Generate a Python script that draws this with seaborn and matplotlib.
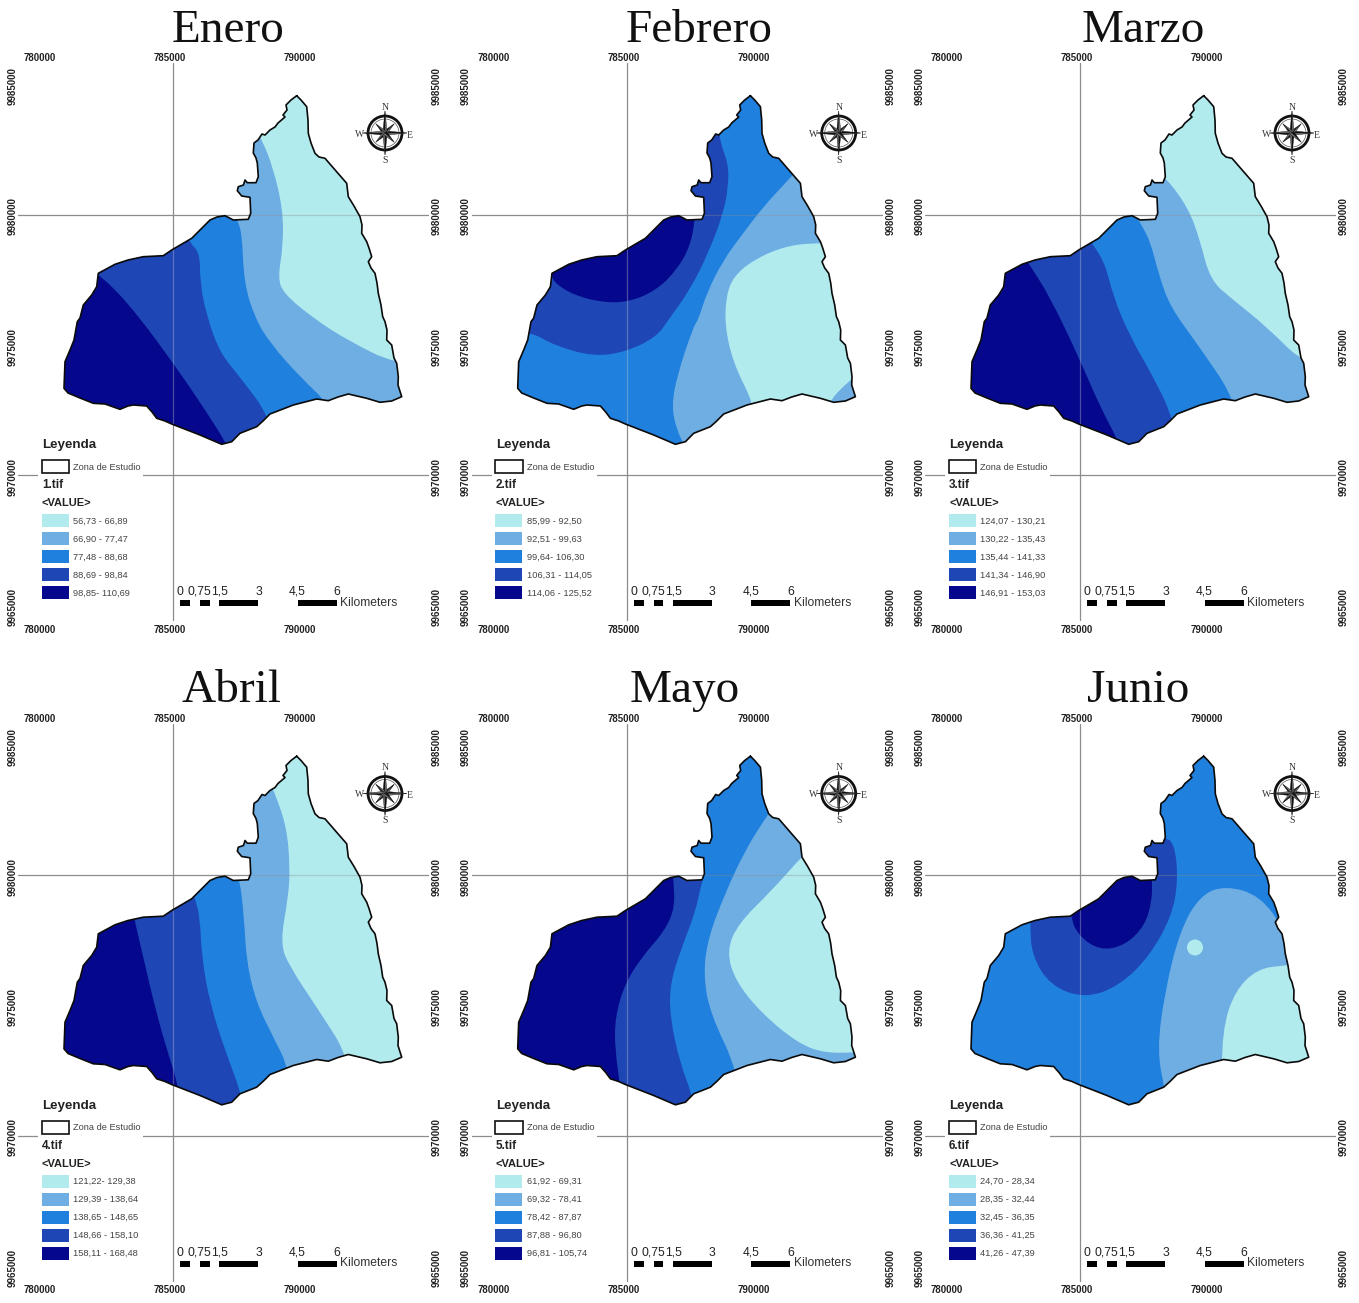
import numpy as np
import matplotlib
matplotlib.use("Agg")
import matplotlib.pyplot as plt
import seaborn as sns
from matplotlib.patches import Polygon, Rectangle, Circle, PathPatch
from matplotlib.path import Path
from matplotlib.transforms import ScaledTranslation

# Digitised map sheet: sheet units, georeferenced to UTM metres below
PX_PER_KM = 26.05
SHEET_X0, SHEET_Y0 = 173.0, 214.5
UTM_E0, UTM_N0 = 785000, 9980000

outline_pts = [
    (296.7, 95.7), (291, 100), (286, 105), (287, 110), (283, 115), (285, 117), (278, 123), (275, 127), (270, 130),
    (265, 135), (262, 134), (258, 140), (254, 143), (253.3, 153), (256, 158), (257.3, 163), (258.3, 176.7),
    (256, 182.7), (247.3, 182.7), (245, 180), (243.5, 185), (238.3, 186.7), (237.3, 190.7), (241.7, 196),
    (250, 197.3), (250.7, 213.3), (248.3, 219.3), (233.3, 220), (225, 215.7), (217, 217), (210, 220), (200, 230),
    (191.7, 238.3), (171.7, 250), (163.3, 255.7), (143.3, 256.7), (128, 260), (115, 264.3), (98.3, 273.3),
    (96.7, 286.7), (91.7, 295), (83.3, 305), (80, 318), (77.3, 321.7), (74, 340), (70, 350), (65, 361.7),
    (64, 388.3), (68, 393), (80, 398), (93.3, 403.3), (105, 404), (120, 409.3), (128, 406), (133.3, 405),
    (146.7, 406), (152, 412), (156.7, 418.3), (165, 421), (171.7, 424), (200, 435), (221.7, 444.3), (231.7, 441.7),
    (240, 433.3), (256.7, 426.7), (263, 421), (270, 414), (293.3, 405), (316.7, 399), (328.3, 400.7), (338, 397),
    (348.3, 394), (366.7, 398.3), (380, 402.3), (391.7, 401), (401.7, 396.7), (398, 385), (398.3, 376.7),
    (396.7, 363.3), (394, 358), (391.7, 345), (386.7, 340), (387, 330), (385, 321.7), (382.7, 316.7), (381, 305),
    (378.3, 293.3), (377, 283), (375, 273.3), (371, 268), (368.3, 261.7), (371.7, 256.7), (369, 248),
    (366.7, 241.7), (361.7, 233.3), (362, 225), (360, 216.7), (354, 206), (348.3, 196.7), (347.5, 190),
    (346.7, 183.3), (336, 171), (325, 158.3), (319, 157), (315, 153.3), (311, 143), (308.3, 133.3), (308, 120),
    (306.7, 106.7), (301, 100), (296.7, 95.7),
]

# class colours, lowest to highest
class_colors = ["#B2EBEE", "#6FAEE3", "#1F80DE", "#1E46B5", "#05088C"]

months = ["Enero", "Febrero", "Marzo", "Abril", "Mayo", "Junio"]
title_centers = [228, 699, 1143, 232, 685, 1138]
tif_names = ["1.tif", "2.tif", "3.tif", "4.tif", "5.tif", "6.tif"]

enero_classes = ["56,73 - 66,89", "66,90 - 77,47", "77,48 - 88,68", "88,69 - 98,84", "98,85- 110,69"]
febrero_classes = ["85,99 - 92,50", "92,51 - 99,63", "99,64- 106,30", "106,31 - 114,05", "114,06 - 125,52"]
marzo_classes = ["124,07 - 130,21", "130,22 - 135,43", "135,44 - 141,33", "141,34 - 146,90", "146,91 - 153,03"]
abril_classes = ["121,22- 129,38", "129,39 - 138,64", "138,65 - 148,65", "148,66 - 158,10", "158,11 - 168,48"]
mayo_classes = ["61,92 - 69,31", "69,32 - 78,41", "78,42 - 87,87", "87,88 - 96,80", "96,81 - 105,74"]
junio_classes = ["24,70 - 28,34", "28,35 - 32,44", "32,45 - 36,35", "36,36 - 41,25", "41,26 - 47,39"]
month_classes = [enero_classes, febrero_classes, marzo_classes, abril_classes, mayo_classes, junio_classes]

x_ticks = [780000, 785000, 790000]
y_ticks = [9965000, 9970000, 9975000, 9980000, 9985000]
scale_breaks = [0, 0.375, 0.75, 1.125, 1.5, 3, 4.5, 6]
scale_labels = [(0, "0"), (0.75, "0,75"), (1.5, "1,5"), (3, "3"), (4.5, "4,5"), (6, "6")]


def east_of(points):
    # close a class boundary round the eastern side of the sheet
    first, last = points[0], points[-1]
    end = [(460, last[1])] if last[0] > 380 else [(last[0], 470)]
    return list(points) + end + [(460, 470), (460, 60), (first[0], 60)]


enero_bands = [
    (3, east_of([(92, 268), (98, 275), (113, 287), (140, 318), (173, 363), (200, 402), (232, 452)])),
    (2, east_of([(187, 234), (190, 243), (200, 253), (200, 283), (207, 317), (220, 353), (240, 377), (272, 420)])),
    (1, east_of([(235, 212), (237, 220), (242, 233), (244, 283), (255, 318), (270, 343), (300, 377), (333, 408)])),
    (0, east_of([(258, 135), (262, 140), (273, 167), (283, 210), (283, 247), (278, 277), (283, 293), (313, 318),
                 (347, 340), (397, 365)])),
]
febrero_bands = [
    (3, [(79.6, 333), (99.6, 345), (139.6, 356.7), (173, 351.7), (203, 336.7), (214.6, 320), (236.3, 290),
         (256, 250), (269.6, 213), (274.6, 186.7), (274.6, 163), (264.6, 138), (264.6, 90), (60, 90), (60, 333)]),
    (4, [(98, 273), (99.6, 282), (119.6, 295), (149.6, 302.7), (176.3, 301.7), (203, 290), (223, 270),
         (236.3, 246.7), (241.3, 220), (241.3, 205), (90, 205), (90, 273)]),
    (1, east_of([(340, 174), (336.3, 178), (309.6, 206.7), (289.6, 233), (269.6, 260), (253, 293), (244.6, 320),
                 (239.6, 326.7), (223, 376.7), (218, 406.7), (223, 430), (232, 448)])),
    (0, [(410, 243), (359.6, 242.7), (329.6, 246.7), (299.6, 260), (279.6, 276.7), (272.3, 296.7), (271.3, 326.7),
         (279.6, 363), (298, 400), (298, 410), (376, 410), (376.3, 400), (396.3, 380), (410, 370)]),
]
marzo_bands = [
    (3, east_of([(118, 258), (121.3, 263), (143, 296.7), (173, 360), (193, 406.7), (216, 450)])),
    (2, east_of([(182, 238), (184.7, 243), (198, 263), (206.3, 296.7), (223, 336.7), (246.3, 376.7), (268, 422)])),
    (1, east_of([(228, 212), (231.3, 220), (243, 240), (251.3, 273), (263, 306.7), (289.7, 343), (332, 405)])),
    (0, east_of([(245, 170), (259, 177.5), (281.3, 208), (293, 240), (303, 280), (326.3, 300), (359.7, 326.7),
                 (400, 367)])),
]
abril_bands = [
    (3, east_of([(134, 255), (135, 261.7), (143.3, 296.7), (153.3, 340), (165, 383.3), (180, 430)])),
    (2, east_of([(193, 233), (195, 238.3), (200, 256.7), (201.7, 296.7), (210, 343), (225, 390), (243, 437)])),
    (1, east_of([(234, 205), (240, 220), (244, 256.7), (246.7, 303), (256.7, 343), (273.3, 376.7), (290, 410)])),
    (0, east_of([(272, 128), (275, 133), (286.7, 166.7), (290, 206.7), (288.3, 236.7), (280, 283), (290, 306.7),
                 (316.7, 346.7), (351, 400)])),
]
mayo_bands = [
    (3, east_of([(219, 212), (219.6, 218), (221.3, 246.7), (211.3, 270), (188, 296.7), (171.3, 323), (161.3, 356.7),
                 (161.3, 390), (167, 428)])),
    (2, east_of([(230, 205), (251, 214), (248, 221.7), (241.3, 253), (228, 286.7), (216.3, 323), (216.3, 356.7),
                 (226.3, 403), (240, 438)])),
    (1, east_of([(316, 152), (311.3, 158.3), (291.3, 190), (271.3, 233), (254.6, 276.7), (249.6, 313), (256.3, 353),
                 (285, 412)])),
    (0, east_of([(350, 195), (344.6, 200), (318, 230), (284.6, 263), (273, 290), (281.3, 320), (308, 353),
                 (344.6, 383), (371.3, 392.7), (404, 391.7)])),
]
junio_bands = [
    (3, [(123, 265), (125, 295), (143, 325), (178, 338), (213, 325), (243, 295), (265, 255), (271, 220), (268, 185),
         (258, 175), (123, 175)]),
    (4, [(163, 255), (171, 275), (193, 290), (218, 285), (238, 265), (245, 240), (245, 220), (245, 205), (163, 205)]),
    (1, [(258, 440), (258, 430), (250, 390), (258, 330), (273, 270), (293, 235), (318, 225), (353, 235), (378, 270),
         (385, 300), (420, 300), (420, 440)]),
    (0, [(315, 440), (315, 370), (328, 330), (351, 308), (378, 305), (420, 300), (420, 440)]),
]
month_bands = [enero_bands, febrero_bands, marzo_bands, abril_bands, mayo_bands, junio_bands]
month_base = [4, 2, 4, 4, 4, 2]
junio_spot = (288, 287)

sns.set_theme(style="white")
plt.rcParams["font.family"] = ["Liberation Sans", "DejaVu Sans"]

FIG_W, FIG_H = 1359, 1303
col_dx = [0, 453.7, 907]
row_dy = [0, 660.5]


def sheet_e(x):
    return UTM_E0 + (np.asarray(x, dtype=float) - SHEET_X0) / PX_PER_KM * 1000


def sheet_n(y):
    return UTM_N0 - (np.asarray(y, dtype=float) - SHEET_Y0) / PX_PER_KM * 1000


def to_utm(points):
    pts = np.array(points, dtype=float)
    return np.column_stack([sheet_e(pts[:, 0]), sheet_n(pts[:, 1])])


def band_path(xy):
    # class edges are soft on the map, so the points act as curve controls
    mids = (xy + np.roll(xy, -1, axis=0)) / 2
    verts = [mids[-1]]
    codes = [Path.MOVETO]
    for i in range(len(xy)):
        verts += [xy[i], mids[i]]
        codes += [Path.CURVE3, Path.CURVE3]
    verts.append(mids[-1])
    codes.append(Path.CLOSEPOLY)
    return Path(verts, codes)


def draw_compass(ax):
    cx, cy = 385, 133
    ring_r = 17
    e, n = sheet_e(cx), sheet_n(cy)
    m = 1000 / PX_PER_KM
    ax.add_patch(Circle((e, n), ring_r * m, fc="white", ec="#111111", lw=2.0, zorder=6))
    ax.add_patch(Circle((e, n), (ring_r - 3) * m, fc="none", ec="#555555", lw=0.5, zorder=6))
    for i in range(8):
        ang = i * np.pi / 4
        length = (22 if i % 2 == 0 else 13) * m
        tip = np.array([np.cos(ang), np.sin(ang)])
        side = np.array([-tip[1], tip[0]]) * 2.2 * m
        xy = np.array([[e, n], [e, n] + tip * length, [e, n] + side])
        ax.add_patch(Polygon(xy, fc="#111111", ec="#111111", lw=0.3, zorder=7))
        xy = np.array([[e, n], [e, n] + tip * length, [e, n] - side])
        ax.add_patch(Polygon(xy, fc="#777777", ec="#111111", lw=0.3, zorder=7))
    for letter, lx, ly in [("N", 385, 107), ("S", 385, 160), ("W", 360, 134), ("E", 410, 135)]:
        ax.text(sheet_e(lx), sheet_n(ly), letter, family="Liberation Serif", fontsize=7,
                ha="center", va="center", color="#333333", zorder=8)


def draw_legend(ax, tif_name, classes):
    ax.add_patch(Rectangle((sheet_e(38), sheet_n(612)), 105 * 1000 / PX_PER_KM, 172 * 1000 / PX_PER_KM,
                           fc="white", ec="none", zorder=3))
    ax.text(sheet_e(42), sheet_n(445), "Leyenda", fontsize=9.6, fontweight="bold", color="#222222",
            va="center", zorder=5)
    ax.add_patch(Rectangle((sheet_e(41.7), sheet_n(473.3)), 27.3 * 1000 / PX_PER_KM, 13.3 * 1000 / PX_PER_KM,
                           fc="white", ec="#111111", lw=1.2, zorder=5))
    ax.text(sheet_e(73.3), sheet_n(467), "Zona de Estudio", fontsize=6.7, color="#444444", va="center", zorder=5)
    ax.text(sheet_e(42), sheet_n(485), tif_name, fontsize=8.5, fontweight="bold", color="#222222",
            va="center", zorder=5)
    ax.text(sheet_e(42), sheet_n(503), "<VALUE>", fontsize=8, fontweight="bold", color="#222222",
            va="center", zorder=5)
    for i, label in enumerate(classes):
        top = 514 + 18 * i
        ax.add_patch(Rectangle((sheet_e(41.7), sheet_n(top + 13.3)), 26.8 * 1000 / PX_PER_KM, 13.3 * 1000 / PX_PER_KM,
                               fc=class_colors[i], ec="none", zorder=5))
        ax.text(sheet_e(73.3), sheet_n(top + 9.5), label, fontsize=6.7, color="#444444", va="baseline", zorder=5)


def draw_scale(ax):
    start = sheet_e(180.3)
    top, bottom = sheet_n(600), sheet_n(606)
    for i in range(0, len(scale_breaks) - 1, 2):
        x0 = start + scale_breaks[i] * 1000
        width = (scale_breaks[i + 1] - scale_breaks[i]) * 1000
        ax.add_patch(Rectangle((x0, bottom), width, top - bottom, fc="black", ec="none", zorder=5))
    for km, label in scale_labels:
        ax.text(start + km * 1000, sheet_n(595), label, fontsize=8.7, color="#222222",
                ha="center", va="baseline", zorder=5)
    ax.text(sheet_e(340), sheet_n(602.7), "Kilometers", fontsize=8.7, color="#333333", va="center", zorder=5)


def draw_panel(fig, idx):
    row, col = divmod(idx, 3)
    dx, dy = col_dx[col], row_dy[row]
    left, right, top, bottom = 18, 429, 63, 621
    ax = fig.add_axes([(left + dx) / FIG_W, 1 - (bottom + dy) / FIG_H, (right - left) / FIG_W, (bottom - top) / FIG_H])

    outline = to_utm(outline_pts)
    clip = Polygon(outline, closed=True, transform=ax.transData)

    # guide lines under the map, then faintly over it
    ax.axvline(785000, color="#8c8c8c", lw=0.9, zorder=1)
    ax.axhline(9980000, color="#8c8c8c", lw=0.9, zorder=1)
    ax.axhline(9970000, color="#8c8c8c", lw=0.9, zorder=1)

    base = ax.fill(outline[:, 0], outline[:, 1], color=class_colors[month_base[idx]], lw=0, zorder=2)[0]
    base.set_clip_path(clip)
    for cls, pts in month_bands[idx]:
        band = PathPatch(band_path(to_utm(pts)), fc=class_colors[cls], ec="none", lw=0, zorder=2)
        ax.add_patch(band)
        band.set_clip_path(clip)
    if months[idx] == "Junio":
        ax.add_patch(Circle((sheet_e(junio_spot[0]), sheet_n(junio_spot[1])), 8 * 1000 / PX_PER_KM,
                            fc=class_colors[0], ec="none", zorder=2))

    over = ax.axvline(785000, color="#cccccc", lw=0.9, alpha=0.35, zorder=2.5)
    over.set_clip_path(clip)
    over = ax.axhline(9980000, color="#8c8c8c", lw=0.9, alpha=0.35, zorder=2.5)
    over.set_clip_path(clip)

    sns.lineplot(x=outline[:, 0], y=outline[:, 1], sort=False, estimator=None, color="#0a0a0a", lw=1.2, ax=ax, zorder=4)

    draw_compass(ax)
    draw_legend(ax, tif_names[idx], month_classes[idx])
    draw_scale(ax)

    ax.set_xlim(sheet_e(left), sheet_e(right))
    ax.set_ylim(sheet_n(bottom), sheet_n(top))
    ax.set_xlabel("")
    ax.set_ylabel("")
    ax.set_xticks(x_ticks, [str(v) for v in x_ticks])
    ax.set_yticks(y_ticks, [str(v) for v in y_ticks])
    ax.tick_params(axis="x", top=False, bottom=False, labeltop=True, labelbottom=True, length=0, pad=2, labelsize=7,
                   labelcolor="#222222")
    ax.tick_params(axis="y", left=False, right=False, labelleft=True, labelright=True, length=0, pad=2, labelsize=7,
                   labelcolor="#222222")
    inch = fig.dpi_scale_trans
    for tick in ax.xaxis.get_major_ticks():
        tick.label1.set_fontweight("bold")
        tick.label2.set_fontweight("bold")
        tick.label1.set_transform(tick.label1.get_transform() + ScaledTranslation(-3 / 100, -1 / 100, inch))
        tick.label2.set_transform(tick.label2.get_transform() + ScaledTranslation(-3 / 100, -3 / 100, inch))
    for tick in ax.yaxis.get_major_ticks():
        for label, shift in ((tick.label1, 2), (tick.label2, 0)):
            label.set_fontweight("bold")
            label.set_rotation(90)
            label.set_verticalalignment("center")
            label.set_transform(label.get_transform() + ScaledTranslation(shift / 100, -2 / 100, inch))
    sns.despine(ax=ax, left=True, right=True, top=True, bottom=True)
    ax.patch.set_alpha(0)

    baseline = 42 + dy
    fig.text(title_centers[idx] / FIG_W, 1 - baseline / FIG_H, months[idx], family="Liberation Serif", fontsize=34,
             ha="center", va="baseline", color="#111111")


fig = plt.figure(figsize=(FIG_W / 100, FIG_H / 100), dpi=100, facecolor="white")
for i in range(len(months)):
    draw_panel(fig, i)
fig.savefig("out.png", dpi=100)
